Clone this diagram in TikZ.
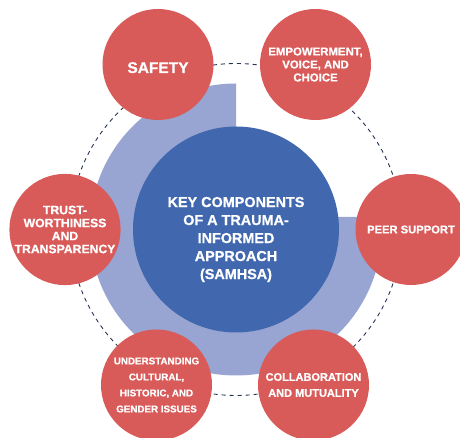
\documentclass[tikz,border=0pt]{standalone}
\usepackage{fontspec}
\setmainfont{Liberation Sans}[BoldFeatures={FakeBold=0.7}]
\usepackage{tikz}
\definecolor{compred}{RGB}{217,91,89}
\definecolor{hubblue}{RGB}{65,104,174}
\definecolor{ringblue}{RGB}{152,165,210}
\definecolor{dashnavy}{RGB}{38,52,82}

\begin{document}
\begin{tikzpicture}[x=1pt,y=1pt,
  comp/.style={circle,fill=compred,text=white,minimum size=111pt,inner sep=0pt,align=center},
  hub/.style={circle,fill=hubblue,minimum size=206pt,inner sep=0pt}]
  \useasboundingbox (0,0) rectangle (460,438);
  \coordinate (c) at (236,208.5);
  \draw[dashnavy,line width=0.9pt,dash pattern=on 4pt off 4pt] (c) circle[radius=166pt];
  \fill[ringblue] (236,354.5) arc[start angle=90,end angle=365,radius=146pt] -- (236,221.2) -- cycle;
  \node (hub) at (c) [hub] {};
  \node (hubtext) at (236,198.5) [text=white,align=center,font=\bfseries\fontsize{14.4}{18}\selectfont] {KEY COMPONENTS\\OF A TRAUMA-\\INFORMED\\APPROACH\\(SAMHSA)};
  \node (safety) at (158,373.5) [comp,font=\bfseries\fontsize{15.5}{18}\selectfont,text height=17pt,text depth=0pt] {SAFETY};
  \node (empower) at (315.5,373.5) [comp,font=\bfseries\fontsize{11.4}{13}\selectfont] {EMPOWERMENT,\\VOICE, AND\\CHOICE};
  \node (peer) at (411,208.5) [comp,font=\bfseries\fontsize{11.2}{13}\selectfont] {PEER SUPPORT};
  \node (collab) at (313.5,53) [comp,font=\bfseries\fontsize{11}{16}\selectfont] {COLLABORATION\\AND MUTUALITY};
  \node (issues) at (156.5,53) [comp,font=\bfseries\fontsize{9.8}{16}\selectfont] {UNDERSTANDING\\CULTURAL,\\HISTORIC, AND\\GENDER ISSUES};
  \node (trust) at (65,208.5) [comp,font=\bfseries\fontsize{12.2}{13}\selectfont] {TRUST-\\WORTHINESS\\AND\\TRANSPARENCY};
\end{tikzpicture}
\end{document}
